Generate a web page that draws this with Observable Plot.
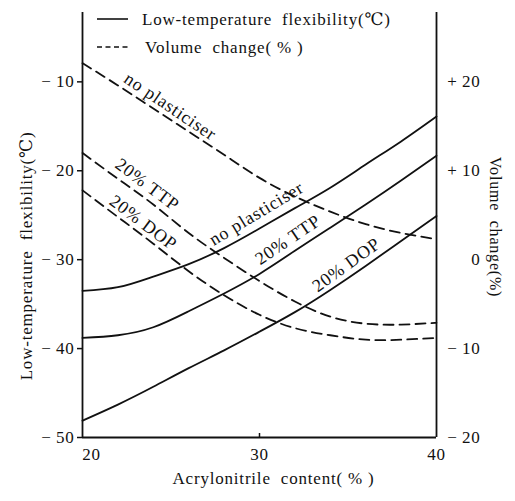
<!DOCTYPE html>
<html>
<head>
<meta charset="utf-8">
<script src="https://cdn.jsdelivr.net/npm/d3@7"></script>
<script src="https://cdn.jsdelivr.net/npm/@observablehq/plot@0.6"></script>
<style>
  html, body { margin: 0; padding: 0; background: #fff; }
  #wrap { position: relative; width: 515px; height: 501px; }
  #legend { position: absolute; left: 0; top: 0; }
  #wrap text { letter-spacing: 0.8px; }
</style>
</head>
<body>
<div id="wrap"><div id="chart"></div><svg id="legend" width="515" height="60"></svg></div>
<script>
// ---- data ----
const acrylonitrile = [20, 22, 24, 26, 28, 30, 32, 34, 36, 38, 40];
// low-temperature flexibility (°C), left axis
const flexNoPlasticiser = [-33.5, -33.1, -31.9, -30.5, -28.7, -26.5, -24.2, -21.9, -19.3, -16.7, -13.9];
const flexTTP           = [-38.8, -38.5, -37.6, -35.8, -33.8, -31.6, -29.0, -26.4, -23.8, -21.1, -18.3];
const flexDOP           = [-48.1, -46.3, -44.3, -42.2, -40.2, -38.1, -35.9, -33.4, -30.7, -27.9, -25.1];
// volume change (%), right axis
const volNoPlasticiser = [22.1, 19.6, 17.0, 14.4, 11.8, 9.2, 7.1, 5.4, 4.0, 3.0, 2.3];
const volTTP           = [12.0, 9.1, 6.2, 3.0, 0.2, -2.4, -4.7, -6.4, -7.2, -7.3, -7.1];
const volDOP           = [7.8, 4.8, 1.8, -1.3, -4.0, -6.2, -7.7, -8.5, -9.0, -9.0, -8.8];

const xTicks = [20, 30, 40];
const leftTicks = [-10, -20, -30, -40, -50];
const volOffset = 30; // right-axis 0 lines up with left-axis -30
const seriesNames = ["no plasticiser", "20% TTP", "20% DOP"];
const legendLabels = ["Low-temperature  flexibility(\u2103)", "Volume  change( % )"];
const xTitle = "Acrylonitrile  content( % )";
const yLeftTitle = "Low-temperature  flexibility(\u2103)";
const yRightTitle = "Volume  change(%)";

// ---- build tables ----
const flexSeries = [flexNoPlasticiser, flexTTP, flexDOP];
const volSeries = [volNoPlasticiser, volTTP, volDOP];
const flexRows = [], volRows = [];
seriesNames.forEach((s, k) => {
  acrylonitrile.forEach((x, i) => {
    flexRows.push({series: s, x, y: flexSeries[k][i]});
    volRows.push({series: s, x, y: volSeries[k][i] - volOffset});
  });
});

// label anchors taken from the data (x index), offsets are styling
function at(arr, xv) { return arr[acrylonitrile.indexOf(xv)]; }
const volLabels = [
  {text: seriesNames[0], x: 24, y: at(volNoPlasticiser, 24) - volOffset, dx: 17, dy: -2, r: 34},
  {text: seriesNames[1], x: 24, y: at(volTTP, 24) - volOffset, dx: -6, dy: -20, r: 37},
  {text: seriesNames[2], x: 24, y: at(volDOP, 24) - volOffset, dx: -10, dy: -21, r: 37}
];
const flexLabels = [
  {text: seriesNames[0], x: 30, y: at(flexNoPlasticiser, 30), dx: -3, dy: -15, r: -31},
  {text: seriesNames[1], x: 32, y: at(flexTTP, 32), dx: -7, dy: -11, r: -34},
  {text: seriesNames[2], x: 34, y: at(flexDOP, 34), dx: 16, dy: -25, r: -36}
];

const fmtLeft = d => d < 0 ? "\u2212\u2009" + (-d) : String(d);
const fmtRight = d => { const v = d + volOffset; return v > 0 ? "+\u2009" + v : v < 0 ? "\u2212\u2009" + (-v) : "0"; };

const ink = "#111";
const font = "'Liberation Serif', 'DejaVu Serif', serif";

const labelMarks = [];
for (const L of [...volLabels, ...flexLabels]) {
  labelMarks.push(Plot.text([L], {x: "x", y: "y", text: "text", rotate: L.r, dx: L.dx, dy: L.dy, fontSize: 18, fill: ink}));
}

const chart = Plot.plot({
  width: 515,
  height: 501,
  marginLeft: 82,
  marginRight: 79,
  marginTop: 12,
  marginBottom: 64,
  style: {fontFamily: font, fontSize: "17px", background: "#fff", color: ink},
  x: {domain: [20, 40]},
  y: {domain: [-50, -2.2]},
  marks: [
    Plot.ruleX([xTicks[0], xTicks[xTicks.length - 1]], {stroke: ink, strokeWidth: 1.8}),
    Plot.ruleY([leftTicks[leftTicks.length - 1]], {stroke: ink, strokeWidth: 1.8}),
    Plot.ruleX(xTicks.slice(1, -1), {y1: leftTicks[leftTicks.length - 1], y2: leftTicks[leftTicks.length - 1] + 0.45, stroke: ink, strokeWidth: 1.5}),
    Plot.axisX([xTicks[0]], {tickSize: 0, tickPadding: 10, dx: 9, fontSize: 17, label: null}),
    Plot.axisX(xTicks.slice(1), {tickSize: 0, tickPadding: 10, fontSize: 17, label: null}),
    Plot.axisY(leftTicks, {anchor: "left", tickSize: 5, tickPadding: 3, strokeWidth: 1.5, tickFormat: fmtLeft, fontSize: 17, label: null}),
    Plot.axisY(leftTicks, {anchor: "right", tickSize: 0, tickPadding: 44, textAnchor: "end", tickFormat: fmtRight, fontSize: 17, label: null}),
    Plot.text([yLeftTitle], {frameAnchor: "left", textAnchor: "middle", rotate: -90, dx: -56, dy: 31, fontSize: 17, fill: ink}),
    Plot.text([yRightTitle], {frameAnchor: "right", textAnchor: "middle", rotate: 90, dx: 59, dy: 2, fontSize: 16, fill: ink}),
    Plot.text([xTitle], {frameAnchor: "bottom", textAnchor: "middle", dx: 14, dy: 46, fontSize: 17, fill: ink}),
    Plot.line(flexRows, {x: "x", y: "y", z: "series", curve: "natural", stroke: ink, strokeWidth: 1.8}),
    Plot.line(volRows, {x: "x", y: "y", z: "series", curve: "natural", stroke: ink, strokeWidth: 1.8, strokeDasharray: "10,6"}),
    ...labelMarks
  ]
});
document.getElementById("chart").appendChild(chart);

// ---- legend ----
const lg = d3.select("#legend");
const dashes = [null, "5,3.5"];
legendLabels.forEach((t, i) => {
  const cy = 19 + i * 28;
  lg.append("line").attr("x1", 97).attr("x2", 128).attr("y1", cy).attr("y2", cy)
    .attr("stroke", ink).attr("stroke-width", 1.6).attr("stroke-dasharray", dashes[i]);
  lg.append("text").attr("x", i === 0 ? 142 : 145).attr("y", cy).attr("dy", "0.35em")
    .attr("font-family", font).attr("font-size", 17).attr("fill", ink)
    .style("white-space", "pre").text(t);
});
</script>
</body>
</html>
